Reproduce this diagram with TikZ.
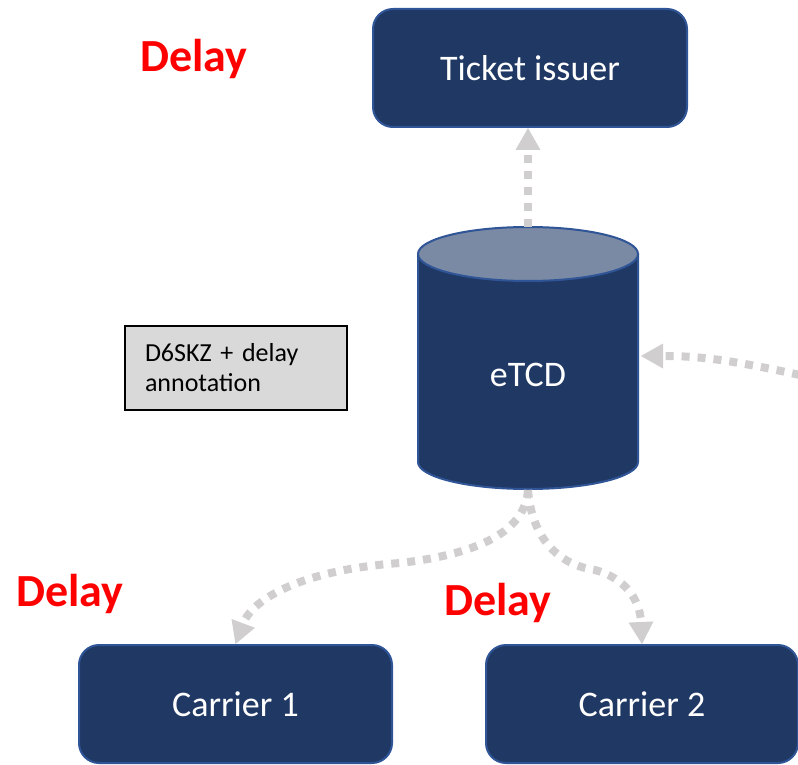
\documentclass[tikz,border=0pt]{standalone}
\usepackage{fontspec}
\setmainfont{Carlito}
\usetikzlibrary{arrows.meta}
\definecolor{navy}{HTML}{203864}
\definecolor{navyedge}{HTML}{2F5597}
\definecolor{topfill}{HTML}{7A89A4}
\definecolor{arrowgray}{HTML}{D0CECE}
\definecolor{boxgray}{HTML}{D9D9D9}
\definecolor{delayred}{HTML}{FF0000}
\tikzset{
  actor/.style={draw=navyedge, line width=2pt, fill=navy, rounded corners=20pt,
    text=white, font=\fontsize{36}{43}\selectfont, minimum width=312pt, minimum height=118pt, inner sep=0pt},
  conn/.style={draw=arrowgray, line width=8pt, dash pattern=on 8pt off 8pt,
    -{Triangle[width=25pt 0 0,length=22pt 0 0,line width=0pt 0 0,fill=arrowgray]}},
  delaylabel/.style={text=delayred, font=\bfseries\fontsize{46}{55}\selectfont, anchor=base, inner sep=0pt},
  annbox/.style={draw=black, line width=1.2pt, fill=boxgray, minimum width=222pt, minimum height=84pt,
    font=\fontsize{26}{30}\selectfont, align=left, text width=182pt, inner xsep=20pt},
}
\begin{document}
\begin{tikzpicture}[x=1pt,y=-1pt]
\useasboundingbox (0,0) rectangle (798,765);
% nodes
\node[actor, minimum width=314pt] (ti) at (530,68) {Ticket issuer};
\node[actor, minimum width=313pt] (c1) at (235.5,704) {Carrier 1};
\node[actor] (c2) at (642,704) {Carrier 2};
% cylinder
\draw[draw=navyedge, line width=2pt, fill=navy] (418,254) -- (418,462)
  arc[start angle=180, end angle=360, x radius=110pt, y radius=27pt] -- (638,254) -- cycle;
\draw[draw=navyedge, line width=2pt, fill=topfill] (528,254) ellipse[x radius=110pt, y radius=27pt];
\node[text=white, font=\fontsize{36}{43}\selectfont, inner sep=0pt] (etcd) at (528,375) {eTCD};
\coordinate (etcdtop) at (528,227);
\coordinate (etcdbot) at (528,490);
\coordinate (etcdright) at (641,356);
\coordinate (ext) at (800,375);
% annotation box
\node[annbox] (ann) at (236,368) {D6SKZ + delay\\annotation};
% labels
\node[delaylabel] (d1) at (194,72) {Delay};
\node[delaylabel] (d2) at (70,606) {Delay};
\node[delaylabel] (d3) at (498,615) {Delay};
% connectors
\draw[conn] (etcdtop) -- (etcdtop |- ti.south);
\draw[conn] (ext) .. controls (730,360) and (700,356) .. (etcdright);
\draw[conn] (etcdbot) .. controls (525,535) and (470,555) .. (400,563)
  .. controls (300,570) and (252,600) .. (c1.north);
\draw[conn] (etcdbot) .. controls (532,540) and (560,565) .. (595,570)
  .. controls (625,578) and (640,600) .. (c2.north);
\end{tikzpicture}
\end{document}
